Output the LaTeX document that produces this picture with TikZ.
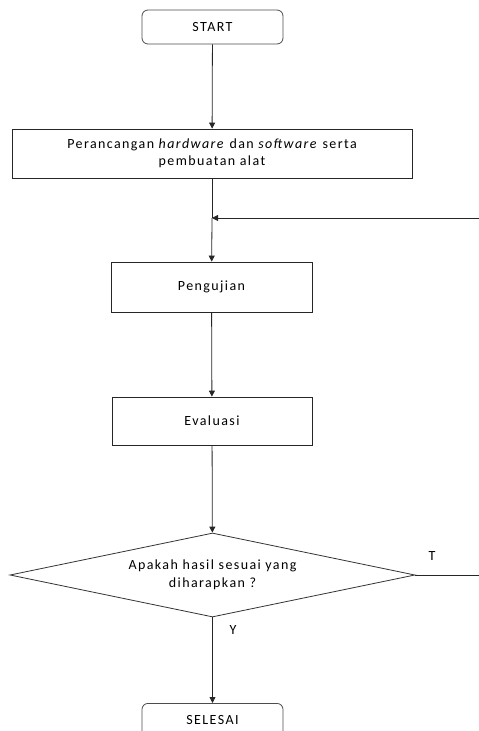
\documentclass[tikz,border=0pt]{standalone}
\usepackage{fontspec}
\setmainfont{Carlito}[LetterSpace=10]
\usetikzlibrary{arrows.meta,shapes.geometric}
\begin{document}
\begin{tikzpicture}[x=1pt,y=-1pt,
  font=\fontsize{14}{17.5}\selectfont,
  terminal/.style={draw=black!70,line width=0.8pt,rounded corners=6pt,minimum width=141pt,minimum height=34pt,inner sep=0pt},
  process/.style={draw=black!85,line width=0.8pt,inner sep=0pt},
  decision/.style={draw=black!80,line width=0.8pt,diamond,aspect=4.8,inner sep=0pt,minimum width=405pt,minimum height=84pt},
  flow/.style={draw=black!85,line width=0.8pt,-{Triangle[length=6pt,width=6pt]}},
  plain/.style={draw=black!85,line width=0.8pt}]
\useasboundingbox (0,0) rectangle (479,731);
\clip (0,0) rectangle (479,731);
\node[terminal] (start) at (212.5,27) {START};
\node[process,minimum width=400pt,minimum height=49pt,align=center] (design) at (212,153.5)
  {Perancangan \textit{hardware} dan \textit{software} serta\\pembuatan alat};
\node[process,minimum width=201pt,minimum height=50pt] (test) at (211.5,287) {Pengujian};
\node[process,minimum width=200pt,minimum height=48pt] (eval) at (212,421) {Evaluasi};
\node[decision,align=center] (dec) at (212.5,575) {Apakah hasil sesuai yang\\diharapkan ?};
\node[terminal,anchor=north] (end) at (212.5,703) {SELESAI};
\coordinate (join) at (212,218);
\coordinate (loopin) at (479,218);
\coordinate (loopout) at (479,575);
\draw[flow] (start) -- (design);
\draw[plain] (design) -- (join);
\draw[flow] (join) -- (test);
\draw[flow] (loopin) -- (join);
\draw[flow] (test) -- (eval);
\draw[flow] (eval) -- (dec);
\draw[flow] (dec) -- (end);
\draw[plain] (dec.east) -- (loopout);
\node at (432,556) {T};
\node at (233,630) {Y};
\end{tikzpicture}
\end{document}
